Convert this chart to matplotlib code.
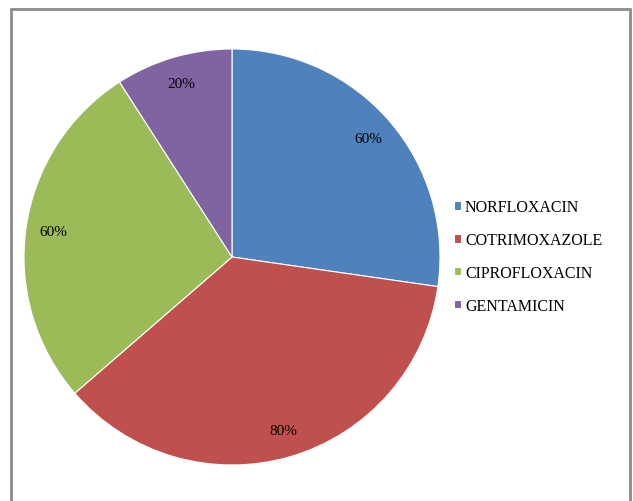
import matplotlib
matplotlib.use('Agg')
import matplotlib.pyplot as plt
from matplotlib.patches import Rectangle

# antibiotic resistance counts per drug
drugs = ['NORFLOXACIN', 'COTRIMOXAZOLE', 'CIPROFLOXACIN', 'GENTAMICIN']
values = [60, 80, 60, 20]
colors = ['#4F81BD', '#C0504D', '#9BBB59', '#8064A2']

plt.rcParams['font.family'] = ['Liberation Serif', 'DejaVu Serif']

W, H = 633, 502
fig = plt.figure(figsize=(W / 100, H / 100), dpi=100)

# pie centred at (232, 258) px with radius 208 px
cx, cy, r = 232, 258, 208
ax = fig.add_axes([(cx - r) / W, (H - cy - r) / H, 2 * r / W, 2 * r / H])

total = sum(values)
wedges, texts, autotexts = ax.pie(
    values, colors=colors, startangle=90, counterclock=False,
    radius=1, pctdistance=0.87,
    autopct=lambda p: '{:.0f}%'.format(p * total / 100),
    wedgeprops=dict(edgecolor='white', linewidth=0.8),
    textprops=dict(fontsize=11, color='black'))
ax.set_xlim(-1, 1)
ax.set_ylim(-1, 1)
ax.set_aspect('equal')
ax.axis('off')

fig.legend(wedges, drugs, loc='center left',
           bbox_to_anchor=(454 / W, (H - 257.5) / H),
           frameon=False, fontsize=11.5, handlelength=0.44, handleheight=0.44,
           handletextpad=0.25, labelspacing=1.05, borderpad=0,
           borderaxespad=0)

# chart area border (open at the bottom)
fig.add_artist(Rectangle((10.5 / W, -0.05), 619.5 / W, (H - 9.5) / H + 0.05,
                         transform=fig.transFigure, fill=False,
                         edgecolor='#8c8c8c', linewidth=2))

fig.savefig('out.png', dpi=100)
